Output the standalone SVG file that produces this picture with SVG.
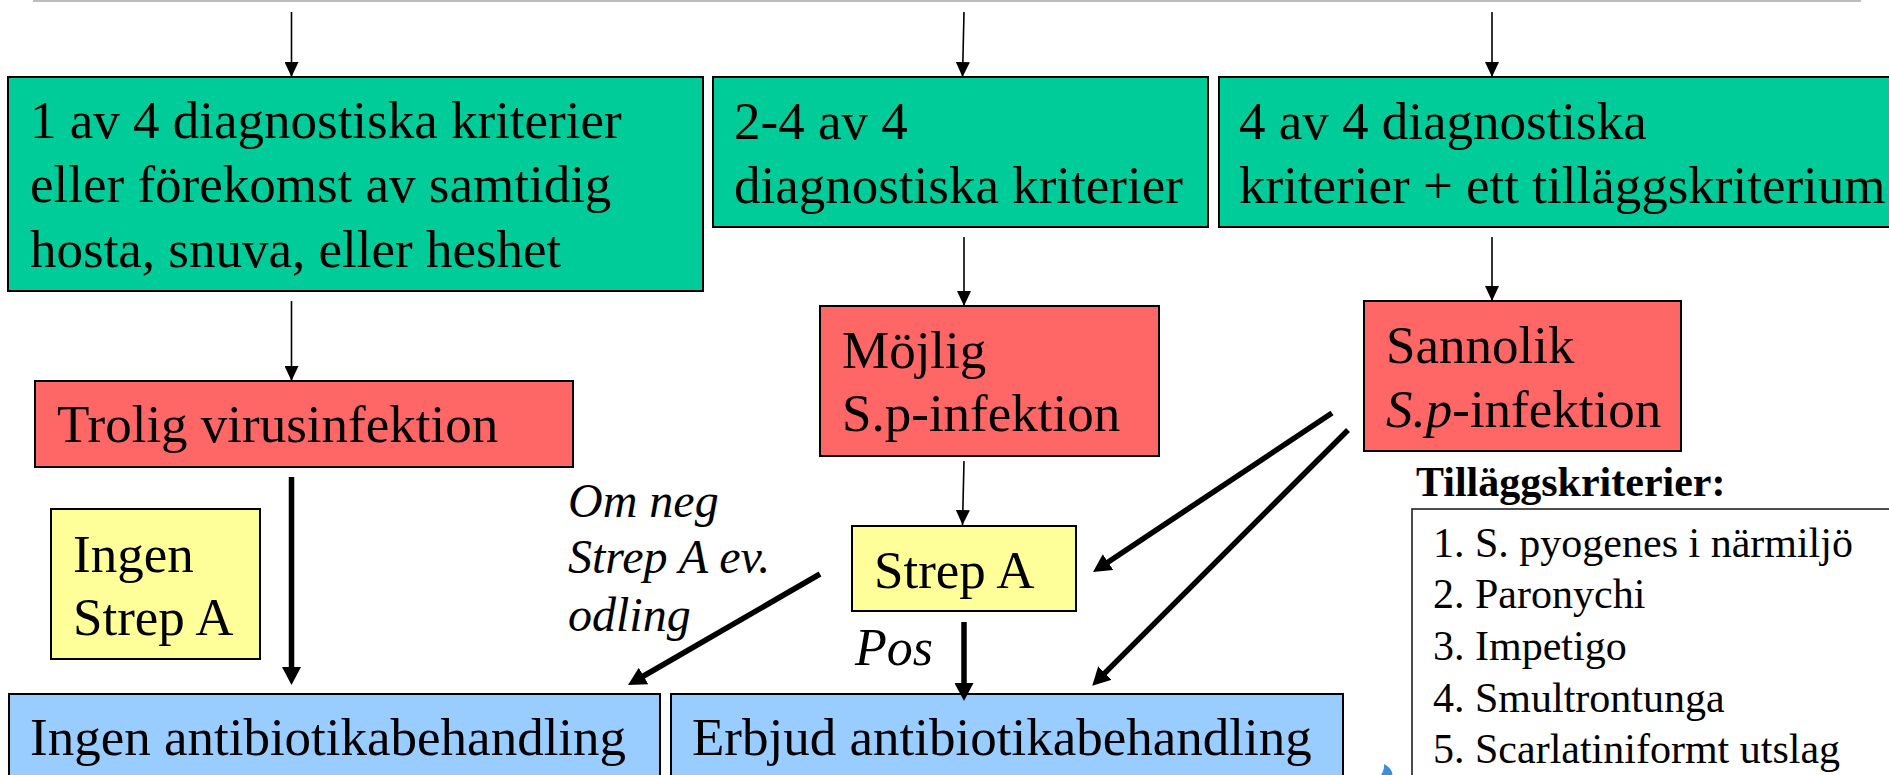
<svg xmlns="http://www.w3.org/2000/svg" width="1889" height="775" viewBox="0 0 1889 775">
  <style>
    text { font-family: "Liberation Serif", "Times New Roman", serif; fill: #000; }
    .big { font-size: 53px; }
    .note { font-size: 48px; font-style: italic; }
    .pos { font-size: 52px; font-style: italic; }
    .head { font-size: 42px; font-weight: bold; }
    .item { font-size: 42px; }
    .box { stroke: #000; stroke-width: 2; }
    .green { fill: #00CC99; }
    .red { fill: #FF6666; }
    .yellow { fill: #FFFF99; }
    .blue { fill: #99CCFF; }
    .thin { stroke: #000; stroke-width: 1.6; fill: none; marker-end: url(#headThin); }
    .thick { stroke: #000; stroke-width: 5.5; fill: none; marker-end: url(#headThick); }
  </style>
  <defs>
    <marker id="headThin" markerUnits="userSpaceOnUse" viewBox="0 0 15 14" refX="15" refY="7" markerWidth="15" markerHeight="14" orient="auto">
      <path d="M0,0 L15,7 L0,14 z" fill="#000"/>
    </marker>
    <marker id="headThick" markerUnits="userSpaceOnUse" viewBox="0 0 18 19" refX="7" refY="9.5" markerWidth="18" markerHeight="19" orient="auto">
      <path d="M0,0 L18,9.5 L0,19 z" fill="#000"/>
    </marker>
  </defs>

  <rect width="1889" height="775" fill="#fff"/>
  <!-- top rule -->
  <line x1="33" y1="1" x2="1861" y2="1" stroke="#bdbdbd" stroke-width="2"/>

  <!-- criteria row -->
  <g id="crit1">
    <rect class="box green" x="8" y="77" width="695" height="214"/>
    <text class="big" x="30" y="138">1 av 4 diagnostiska kriterier</text>
    <text class="big" x="30" y="202">eller förekomst av samtidig</text>
    <text class="big" x="30" y="267">hosta, snuva, eller heshet</text>
  </g>
  <g id="crit2">
    <rect class="box green" x="713" y="77" width="495" height="150"/>
    <text class="big" x="734" y="139">2-4 av 4</text>
    <text class="big" x="734" y="203">diagnostiska kriterier</text>
  </g>
  <g id="crit3">
    <rect class="box green" x="1219" y="77" width="690" height="150"/>
    <text class="big" x="1239" y="139">4 av 4 diagnostiska</text>
    <text class="big" x="1239" y="203">kriterier + ett tilläggskriterium</text>
  </g>

  <!-- assessment row -->
  <g id="virus">
    <rect class="box red" x="35" y="381" width="538" height="86"/>
    <text class="big" x="57" y="442">Trolig virusinfektion</text>
  </g>
  <g id="possible">
    <rect class="box red" x="820" y="306" width="339" height="150"/>
    <text class="big" x="842" y="368">Möjlig</text>
    <text class="big" x="842" y="431">S.p-infektion</text>
  </g>
  <g id="probable">
    <rect class="box red" x="1364" y="301" width="317" height="150"/>
    <text class="big" x="1386" y="363">Sannolik</text>
    <text class="big" x="1386" y="427"><tspan font-style="italic">S.p</tspan>-infektion</text>
  </g>

  <!-- tests -->
  <g id="noStrep">
    <rect class="box yellow" x="51" y="509" width="209" height="150"/>
    <text class="big" x="73" y="572">Ingen</text>
    <text class="big" x="73" y="635">Strep A</text>
  </g>
  <g id="strepA">
    <rect class="box yellow" x="852" y="526" width="224" height="85"/>
    <text class="big" x="874" y="588">Strep A</text>
  </g>

  <!-- outcomes -->
  <g id="noTreatment">
    <rect class="box blue" x="9" y="694" width="651" height="100"/>
    <text class="big" x="30" y="755">Ingen antibiotikabehandling</text>
  </g>
  <g id="treatment">
    <rect class="box blue" x="671" y="694" width="672" height="100"/>
    <text class="big" x="692" y="755">Erbjud antibiotikabehandling</text>
  </g>

  <!-- edge labels -->
  <g id="labelNeg">
    <text class="note" x="568" y="517">Om neg</text>
    <text class="note" x="568" y="573">Strep A ev.</text>
    <text class="note" x="568" y="631">odling</text>
  </g>
  <g id="labelPos">
    <text class="pos" x="855" y="665">Pos</text>
  </g>

  <!-- additional criteria list -->
  <g id="extraCriteria">
    <text class="head" x="1416" y="496">Tilläggskriterier:</text>
    <rect x="1412" y="509" width="500" height="300" fill="#fff" stroke="#222" stroke-width="1.6"/>
    <text class="item" x="1433" y="557">1. S. pyogenes i närmiljö</text>
    <text class="item" x="1433" y="608">2. Paronychi</text>
    <text class="item" x="1433" y="660">3. Impetigo</text>
    <text class="item" x="1433" y="712">4. Smultrontunga</text>
    <text class="item" x="1433" y="763">5. Scarlatiniformt utslag</text>
  </g>

  <!-- small blue ornament at the bottom edge -->
  <path d="M1384,764 Q1392,768 1392.5,775 L1381,775 Q1384.5,770 1384,764 z" fill="#3b8fe0"/>

  <!-- connectors -->
  <g id="connectors">
    <line class="thin" x1="291.5" y1="12" x2="291.5" y2="77"/>
    <line class="thin" x1="964" y1="12" x2="962.5" y2="77"/>
    <line class="thin" x1="1492" y1="12" x2="1492" y2="77"/>
    <line class="thin" x1="291.5" y1="301" x2="291.5" y2="381"/>
    <line class="thin" x1="964" y1="237" x2="964" y2="306"/>
    <line class="thin" x1="1492" y1="237" x2="1492" y2="301"/>
    <line class="thin" x1="964" y1="461" x2="962.5" y2="525"/>

    <line class="thick" x1="291.5" y1="477" x2="291.5" y2="674"/>
    <line class="thick" x1="964" y1="622" x2="964" y2="690"/>
    <line class="thick" x1="820" y1="574" x2="637.5" y2="679.5"/>
    <line class="thick" x1="1332" y1="413" x2="1102.2" y2="566"/>
    <line class="thick" x1="1348" y1="430" x2="1100" y2="677.9"/>
  </g>
</svg>
